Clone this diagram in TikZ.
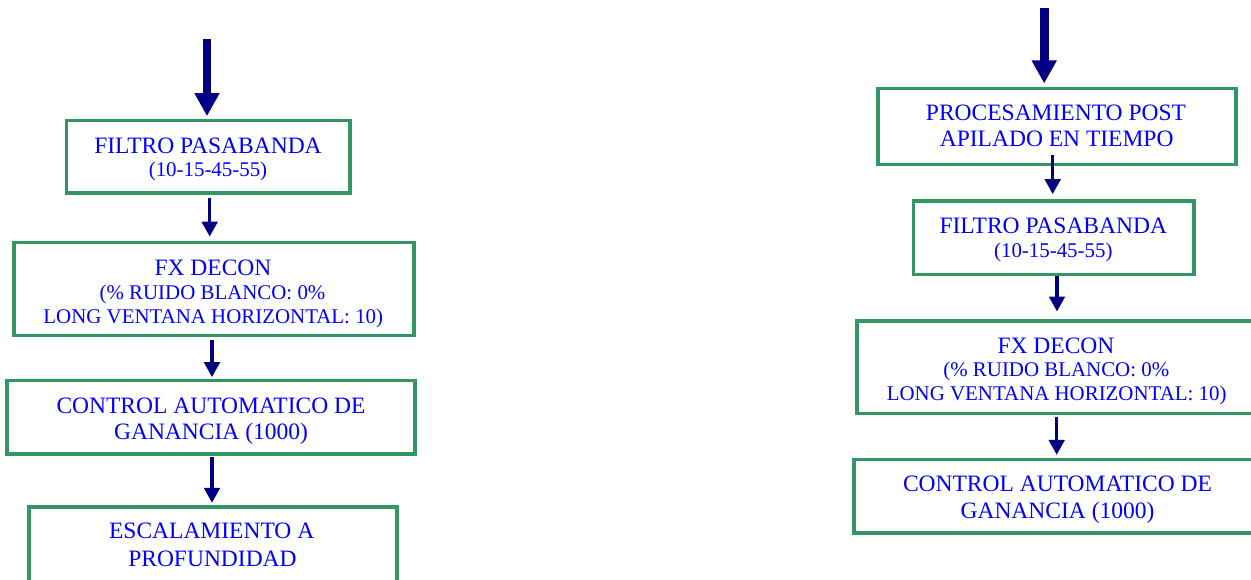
\documentclass[tikz,border=0pt]{standalone}
\usepackage{fontspec}
\setmainfont{Liberation Serif}
\usetikzlibrary{arrows.meta}

\definecolor{boxgreen}{RGB}{52,150,100}
\definecolor{txtblue}{RGB}{0,0,255}
\definecolor{arrownavy}{RGB}{0,0,128}

\tikzset{
  stage/.style={rectangle, draw=boxgreen, line width=3.1pt, inner sep=0pt},
  bigtxt/.style={text=txtblue, font=\fontsize{23.5}{27}\selectfont, anchor=base, inner sep=0pt},
  smalltxt/.style={text=txtblue, font=\fontsize{20.9}{24}\selectfont, anchor=base, inner sep=0pt},
  inflow/.style={draw=arrownavy, line width=8.6pt, -{Triangle[width=23.6pt,length=23pt]}},
  flow/.style={draw=arrownavy, line width=3.4pt, -{Triangle[width=15.5pt,length=15pt]}},
}

\begin{document}
\begin{tikzpicture}[x=1pt,y=-1pt]
  \useasboundingbox (0,0) rectangle (1251,579);
  \clip (0,0) rectangle (1251,579);

  % ---- left processing chain ----
  \node[stage, minimum width=283.5pt, minimum height=72.7pt] (b1) at (208.25,156.65) {};
  \node[stage, minimum width=400pt, minimum height=92.7pt] (b2) at (214,289.2) {};
  \node[stage, minimum width=408pt, minimum height=73.5pt] (b3) at (211,417.25) {};
  \node[stage, minimum width=368pt, minimum height=75pt]   (b4) at (213,544.5) {};

  \node[bigtxt]   (b1a) at (208,153)   {FILTRO PASABANDA};
  \node[smalltxt] (b1b) at (208,176)   {(10-15-45-55)};
  \node[bigtxt]   (b2a) at (213,275)   {FX DECON};
  \node[smalltxt] (b2b) at (212.5,299.5) {(\% RUIDO BLANCO: 0\%};
  \node[smalltxt] (b2c) at (213.3,323.5) {LONG VENTANA HORIZONTAL: 10)};
  \node[bigtxt]   (b3a) at (211,413)   {CONTROL AUTOMATICO DE};
  \node[bigtxt]   (b3b) at (211,439.5) {GANANCIA (1000)};
  \node[bigtxt]   (b4a) at (211.7,538) {ESCALAMIENTO A};
  \node[bigtxt]   (b4b) at (212.5,566) {PROFUNDIDAD};

  \coordinate (lin) at (207,39.3);
  \coordinate (lx1) at (209.7,0);
  \coordinate (lx2) at (212,0);
  \coordinate (lx3) at (212,0);

  \draw[inflow, shorten >=2.6pt] (lin) -- (lin |- b1.north);
  \draw[flow, shorten <=3.4pt, shorten >=4.7pt] (lx1 |- b1.south) -- (lx1 |- b2.north);
  \draw[flow, shorten <=2.4pt, shorten >=1.8pt] (lx2 |- b2.south) -- (lx2 |- b3.north);
  \draw[flow, shorten <=1.6pt, shorten >=2.6pt] (lx3 |- b3.south) -- (lx3 |- b4.north);

  % ---- right processing chain ----
  \node[stage, minimum width=358pt,   minimum height=76.2pt] (r1) at (1057,126.4) {};
  \node[stage, minimum width=280.5pt, minimum height=73.5pt] (r2) at (1053.75,237.75) {};
  \node[stage, minimum width=401pt,   minimum height=92.5pt] (r3) at (1057.5,367.25) {};
  \node[stage, minimum width=408pt,   minimum height=73.5pt] (r4) at (1058,496.25) {};

  \node[bigtxt]   (r1a) at (1056,120)     {PROCESAMIENTO POST};
  \node[bigtxt]   (r1b) at (1056.7,146.7) {APILADO EN TIEMPO};
  \node[bigtxt]   (r2a) at (1053.3,233.3) {FILTRO PASABANDA};
  \node[smalltxt] (r2b) at (1053.3,257.3) {(10-15-45-55)};
  \node[bigtxt]   (r3a) at (1056,353.3)   {FX DECON};
  \node[smalltxt] (r3b) at (1056.3,376.7) {(\% RUIDO BLANCO: 0\%};
  \node[smalltxt] (r3c) at (1056.7,400.7) {LONG VENTANA HORIZONTAL: 10)};
  \node[bigtxt]   (r4a) at (1057.5,491.7) {CONTROL AUTOMATICO DE};
  \node[bigtxt]   (r4b) at (1057.5,518.3) {GANANCIA (1000)};

  \coordinate (rin) at (1044.2,8);
  \coordinate (rx1) at (1052.7,0);
  \coordinate (rx2) at (1057,0);
  \coordinate (rx3) at (1056.7,0);

  \draw[inflow, shorten >=3.3pt] (rin) -- (rin |- r1.north);
  \draw[flow, shorten <=-10.9pt, shorten >=5.3pt] (rx1 |- r1.south) -- (rx1 |- r2.north);
  \draw[flow, shorten >=7.9pt] (rx2 |- r2.south) -- (rx2 |- r3.north);
  \draw[flow, shorten <=1.8pt, shorten >=3.1pt] (rx3 |- r3.south) -- (rx3 |- r4.north);
\end{tikzpicture}
\end{document}
